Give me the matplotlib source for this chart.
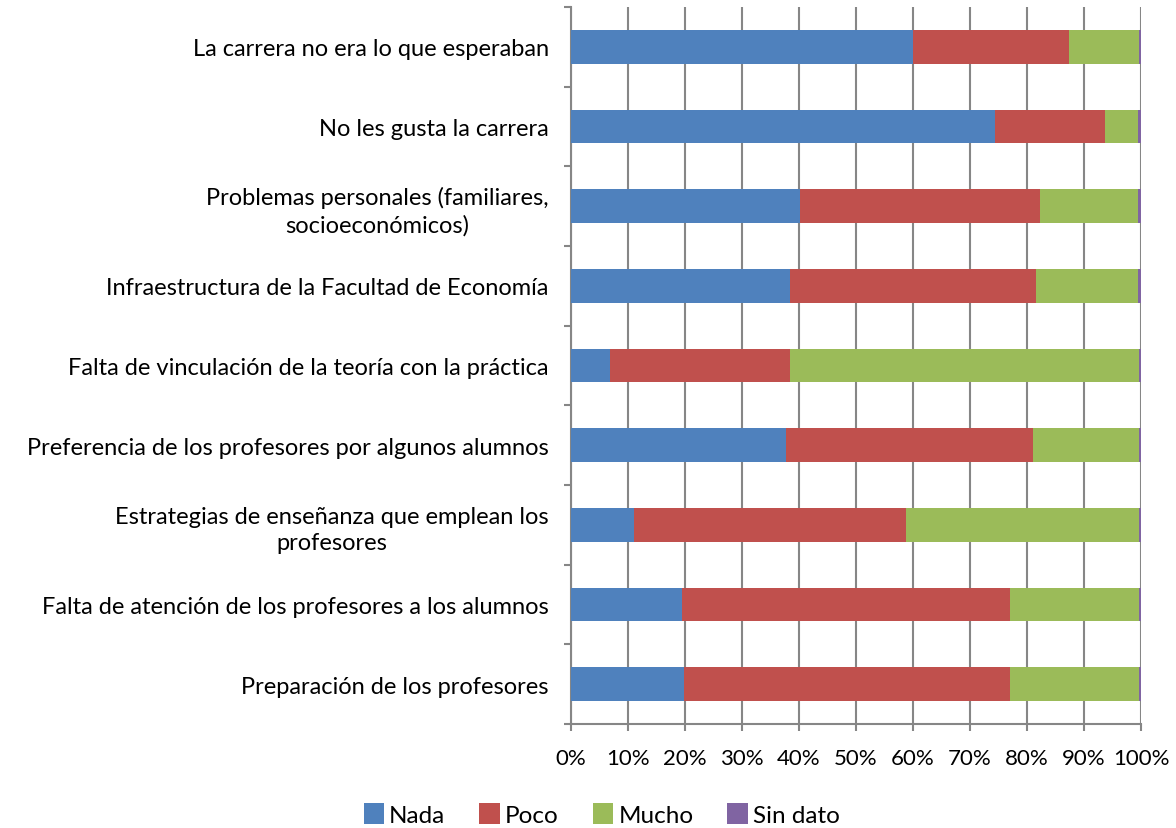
import matplotlib
matplotlib.use('Agg')
import matplotlib.pyplot as plt
import numpy as np

plt.rcParams['font.family'] = ['Lato', 'DejaVu Sans']

categories = [
    'La carrera no era lo que esperaban',
    'No les gusta la carrera',
    'Problemas personales (familiares,\nsocioeconómicos)',
    'Infraestructura de la Facultad de Economía',
    'Falta de vinculación de la teoría con la práctica',
    'Preferencia de los profesores por algunos alumnos',
    'Estrategias de enseñanza que emplean los\nprofesores',
    'Falta de atención de los profesores a los alumnos',
    'Preparación de los profesores',
]
nada = [60.0, 74.4, 40.2, 38.4, 6.8, 37.7, 11.1, 19.5, 19.9]
poco = [27.3, 19.2, 42.1, 43.1, 31.6, 43.4, 47.7, 57.5, 57.1]
mucho = [12.4, 5.8, 17.1, 17.9, 61.3, 18.6, 40.9, 22.7, 22.7]
sin_dato = [0.3, 0.6, 0.6, 0.6, 0.3, 0.3, 0.3, 0.3, 0.3]

series = [('Nada', nada, '#4f81bd'), ('Poco', poco, '#c0504d'),
          ('Mucho', mucho, '#9bbb59'), ('Sin dato', sin_dato, '#8064a2')]

fig = plt.figure(figsize=(11.76, 8.29), dpi=100)
ax = fig.add_axes([571/1176, 1-725/829, 570/1176, 717/829])

n = len(categories)
y = np.arange(n)[::-1]
left = np.zeros(n)
for name, vals, col in series:
    v = np.array(vals)
    ax.barh(y, v, left=left, height=0.42, color=col, label=name, zorder=3)
    left += v

ax.set_xlim(0, 100)
ax.set_ylim(-0.5, n - 0.5)
ax.set_xticks(np.arange(0, 101, 10))
ax.set_xticklabels([f'{t}%' for t in range(0, 101, 10)], fontsize=16)
ax.xaxis.grid(True, color='#868686', linewidth=1.5, zorder=0)

ax.set_yticks(y)
ax.set_yticklabels(categories, fontsize=17, multialignment='center',
                   linespacing=1.3)
ax.set_yticks(np.arange(-0.5, n, 1), minor=True)
ax.tick_params(axis='y', which='major', length=0, pad=16)
ax.tick_params(axis='y', which='minor', length=5, width=1.5, color='#868686')
ax.tick_params(axis='x', length=5, width=1.5, color='#868686', pad=12)

for s in ['top', 'right']:
    ax.spines[s].set_visible(False)
for s in ['left', 'bottom']:
    ax.spines[s].set_color('#868686')
    ax.spines[s].set_linewidth(1.5)

ax.legend(loc='upper center', bbox_to_anchor=(0.054, -0.08), ncol=4,
          frameon=False, fontsize=17.5, handlelength=0.85, handleheight=0.95,
          handletextpad=0.2, columnspacing=1.4)

fig.savefig('out.png', dpi=100)
